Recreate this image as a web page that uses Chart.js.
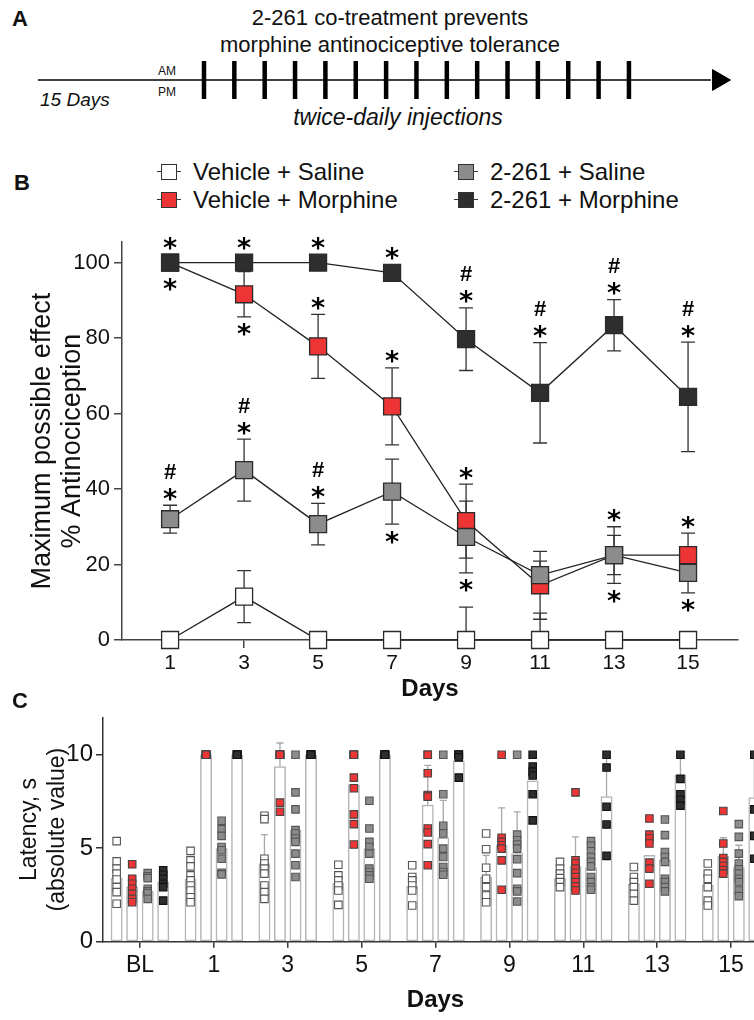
<!DOCTYPE html>
<html><head><meta charset="utf-8">
<script src="https://cdn.jsdelivr.net/npm/chart.js@4.4.1/dist/chart.umd.min.js"></script>
<style>
html,body{margin:0;padding:0;}
body{width:754px;height:1020px;overflow:hidden;position:relative;background:#fff;font-family:"Liberation Sans",Arial,sans-serif;color:#111;}
.abs{position:absolute;white-space:nowrap;}
canvas{position:absolute;left:0;}
.leg{position:absolute;font-size:24px;line-height:28px;white-space:nowrap;}
.mk{position:relative;display:inline-block;width:24px;height:16px;vertical-align:middle;margin-right:12px;top:-2px;}
.mk::before{content:'';position:absolute;left:0;right:0;top:7px;height:1.5px;background:#333;}
.mk i{position:absolute;left:4px;top:0;width:16px;height:16px;border:1.5px solid #333;box-sizing:border-box;}
</style></head><body>
<div class="abs" style="left:12px;top:6px;font-weight:bold;font-size:22px;">A</div>
<div class="abs" style="left:0;width:780px;top:4px;text-align:center;font-size:22px;line-height:27px;">2-261 co-treatment prevents<br>morphine antinociceptive tolerance</div>
<div class="abs" style="left:158px;top:64px;font-size:12px;">AM</div>
<div class="abs" style="left:158px;top:85px;font-size:12px;">PM</div>
<div class="abs" style="left:40px;top:89px;font-size:19px;font-style:italic;">15 Days</div>
<div class="abs" style="left:0;width:796px;top:104px;text-align:center;font-size:23px;font-style:italic;">twice-daily injections</div>
<canvas id="cA" width="754" height="56" style="top:52px"></canvas>

<div class="abs" style="left:14px;top:170px;font-weight:bold;font-size:22px;">B</div>
<div class="leg" style="left:157px;top:158px;"><span class="mk"><i style="background:#fff"></i></span>Vehicle + Saline</div>
<div class="leg" style="left:157px;top:186px;"><span class="mk"><i style="background:#ee3535"></i></span>Vehicle + Morphine</div>
<div class="leg" style="left:454px;top:158px;"><span class="mk"><i style="background:#8c8c8c"></i></span>2-261 + Saline</div>
<div class="leg" style="left:454px;top:186px;"><span class="mk"><i style="background:#2e2e2e"></i></span>2-261 + Morphine</div>
<canvas id="cB" width="754" height="480" style="top:225px"></canvas>

<div class="abs" style="left:12px;top:688px;font-weight:bold;font-size:22px;">C</div>
<canvas id="cC" width="770" height="320" style="top:700px"></canvas>

<script>
// ---------- Panel A data ----------
const injectionDays = [1,2,3,4,5,6,7,8,9,10,11,12,13,14,15];
const timelineStart = -4.47;
const timelineEnd = 17.7;
const arrowHead = 17.95;

// ---------- Panel B data ----------
const days = [1,3,5,7,9,11,13,15];
const dayTicks = [1,3,5,7,9,11,13,15];
const mpeTicks = [0,20,40,60,80,100];
const vsMPE = [0, 11.5, 0, 0, 0, 0, 0, 0];
const vsSEM = [0, 6.9, 0, 0, 8.7, 7.1, 0, 0];
const vmMPE = [100, 91.6, 77.8, 61.9, 31.5, 14.5, 22.5, 22.5];
const vmSEM = [0, 6.0, 8.5, 10.2, 9.8, 9.0, 5.2, 5.8];
const dsMPE = [32, 45, 30.7, 39.3, 27.3, 17.2, 22.5, 17.8];
const dsSEM = [3.7, 8.2, 5.5, 8.6, 9.5, 3.7, 7.5, 5.3];
const dmMPE = [100, 100, 100, 97.3, 79.7, 65.5, 83.4, 64.4];
const dmSEM = [0, 0, 0, 0, 8.3, 13.3, 6.8, 14.5];
// significance marks (above / below each point)
const vsAbove = ['','','','','','','',''];
const vsBelow = ['','','','','','','',''];
const vmAbove = ['','','*','*','*','','','*'];
const vmBelow = ['','*','','','','','',''];
const dsAbove = ['#*','#*','#*','','','','*',''];
const dsBelow = ['','','','*','*','','*','*'];
const dmAbove = ['*','*','*','*','#*','#*','#*','#*'];
const dmBelow = ['*','','','','','','',''];

// ---------- Panel C data ----------
const groups = ['BL','1','3','5','7','9','11','13','15'];
const latTicks = [0,5,10];
const vsMean = [3.4, 3.37, 4.18, 3.14, 2.96, 3.46, 3.4, 3.1, 3.01];
const vsSD   = [0, 0, 1.55, 0, 0, 1.16, 0, 0, 0];
const vmMean = [2.92, 10, 9.37, 8.39, 7.31, 5.16, 4.03, 4.62, 4.57];
const vmSD   = [0, 0, 1.26, 0, 2.12, 2.0, 1.58, 0, 0.99];
const dsMean = [2.69, 4.98, 5.97, 4.98, 5.56, 4.71, 3.96, 4.35, 3.96];
const dsSD   = [0, 0, 0, 0, 2.0, 2.24, 0, 0, 1.2];
const dmMean = [3.19, 10, 10, 10, 9.68, 8.6, 7.76, 8.92, 7.71];
const dmSD   = [0, 0, 0, 0, 0, 0, 2.24, 1.08, 2.29];

const vsPts = [
  [5.38,4.30,3.91,3.64,3.33,2.92,2.65,2.03],
  [4.86,4.35,4.03,3.55,3.28,3.01,2.74,2.38,2.11],
  [6.74,6.56,4.44,4.18,3.91,3.64,3.01,2.65,2.29],
  [4.12,3.55,3.28,3.01,2.74,1.97],
  [4.09,3.46,3.28,3.01,2.74,1.94],
  [5.79,4.95,3.96,3.37,2.92,2.47,2.11],
  [4.27,3.91,3.64,3.40,3.19,2.92],
  [4.00,3.46,3.19,2.92,2.56,2.20],
  [4.18,3.64,3.37,2.92,2.20,1.94]
];
const vmPts = [
  [4.14,3.37,3.10,2.83,2.56,2.29,2.11],
  [10,10,10,10,10,10,10,10],
  [10,10,10,10,10,10,7.44,6.95],
  [10,10,10,10,8.78,8.21,6.81,6.29,5.20],
  [10,10,9.01,7.85,7.76,6.06,5.84,5.22,4.09],
  [10,5.56,5.34,5.16,4.98,4.35,2.78],
  [7.99,4.35,4.18,3.91,3.69,3.46,3.19,2.96,2.74],
  [6.59,5.73,5.52,5.25,4.23,3.91,3.10],
  [6.99,5.25,4.48,4.27,4.05,3.82,3.64]
];
const dsPts = [
  [3.67,3.50,3.40,2.83,2.70,2.60,2.29],
  [6.47,6.02,5.66,5.07,4.89,4.44,3.69,3.60],
  [10,7.99,7.08,5.97,5.79,5.52,5.34,4.71,4.09,3.46],
  [7.54,6.06,5.34,5.07,4.71,3.91,3.73,3.55,3.37],
  [10,7.89,6.20,5.79,4.98,4.53,4.00,3.73,3.58],
  [10,5.73,5.43,5.20,4.98,4.41,3.67,2.83,2.69,2.15],
  [5.38,5.13,4.84,4.53,4.27,4.03,3.46,3.19,2.92,2.78],
  [6.54,5.70,4.80,4.53,4.27,3.37,3.19,2.92,2.69],
  [6.29,5.61,4.71,4.18,3.87,3.64,3.37,3.19,2.74,2.44]
];
const dmPts = [
  [3.82,3.58,3.37,3.10,2.92,2.20],
  [10,10,10,10,10,10],
  [10,10,10,10,10,10],
  [10,10,10,10,10,10],
  [10,10,10,10,9.86,8.78],
  [10,9.37,9.10,8.89,7.89,6.49],
  [10,9.32,7.22,6.27,4.59],
  [10,8.71,7.89,7.58,7.28],
  [10,7.08,5.66,4.44]
];

const COL = {white:'#ffffff', red:'#ee3535', gray:'#8c8c8c', black:'#2e2e2e'};
const FONT = '"Liberation Sans", Arial, sans-serif';
Chart.defaults.font.family = FONT;
Chart.defaults.color = '#111';

// ================= Panel A =================
new Chart(document.getElementById('cA'), {
  type: 'scatter',
  data: { datasets: [
    { data: injectionDays.map(d => ({x:d, y:0})), pointStyle:'line', pointRotation:90, pointRadius:19,
      pointBorderWidth:4.5, pointBorderColor:'#000', showLine:false, clip:false },
    { data: [{x:timelineStart,y:0},{x:timelineEnd,y:0}], showLine:true, borderColor:'#000', borderWidth:1.6,
      pointRadius:0, clip:false },
    { data: [{x:arrowHead,y:0}], pointStyle:'triangle', pointRotation:90, pointRadius:12,
      pointBackgroundColor:'#000', pointBorderColor:'#000', pointBorderWidth:1, clip:false }
  ]},
  options: {
    responsive:false, animation:false, devicePixelRatio:1,
    layout:{padding:0, autoPadding:false},
    plugins:{legend:{display:false}, tooltip:{enabled:false}},
    scales:{
      x:{type:'linear', min:-5.72, max:19.12, display:false},
      y:{type:'linear', min:-1, max:1, display:false}
    }
  }
});

// ================= Panel B =================
function xy(vals){ return days.map((d,i)=>({x:d, y:vals[i]})); }
function lineDs(label, vals, sem, above, below, fill, order){
  return { label, data: xy(vals), sem, above, below, showLine:true, borderColor:'#222', borderWidth:1.3,
    pointStyle:'rect', pointRadius:12, pointBackgroundColor:fill, pointBorderColor:'#2a2a2a',
    pointBorderWidth:1.3, clip:false, order };
}
const errB = {
  id:'errB',
  beforeDatasetsDraw(chart){
    const {ctx, chartArea:a, scales:{x, y}} = chart;
    ctx.save();
    ctx.beginPath(); ctx.rect(a.left-20, a.top-40, a.right-a.left+40, a.bottom-a.top+40); ctx.clip();
    ctx.strokeStyle = '#333'; ctx.lineWidth = 1.3;
    chart.data.datasets.forEach(ds => {
      ds.sem.forEach((s,i) => {
        if (!s) return;
        const p = ds.data[i];
        const px = x.getPixelForValue(p.x);
        const y1 = y.getPixelForValue(p.y + s), y2 = y.getPixelForValue(p.y - s);
        ctx.beginPath();
        ctx.moveTo(px, y1); ctx.lineTo(px, y2);
        ctx.moveTo(px-7, y1); ctx.lineTo(px+7, y1);
        if (p.y - s > -1) { ctx.moveTo(px-7, y2); ctx.lineTo(px+7, y2); }
        ctx.stroke();
      });
    });
    ctx.restore();
  }
};
function drawGlyph(ctx, ch, cx, cy){
  ctx.font = ch === '*' ? 'bold 27px "DejaVu Sans"' : 'bold 22px "Liberation Sans"';
  ctx.textAlign = 'center'; ctx.textBaseline = 'alphabetic';
  const m = ctx.measureText(ch);
  const asc = m.actualBoundingBoxAscent, desc = m.actualBoundingBoxDescent;
  ctx.fillText(ch, cx, cy + (asc - desc)/2);
}
const sigB = {
  id:'sigB',
  afterDatasetsDraw(chart){
    const {ctx, scales:{x, y}} = chart;
    ctx.save(); ctx.fillStyle = '#000';
    chart.data.datasets.forEach(ds => {
      ds.data.forEach((p,i) => {
        const px = x.getPixelForValue(p.x), yc = y.getPixelForValue(p.y);
        const s = ds.sem[i];
        const up = Math.min(y.getPixelForValue(p.y + s), yc - 8.5);
        const lo = Math.max(y.getPixelForValue(p.y - s), yc + 8.5);
        const a = ds.above[i];
        if (a) {
          let cy = up - 11;
          for (let k = a.length - 1; k >= 0; k--) { drawGlyph(ctx, a[k], px, cy); cy -= 23; }
        }
        const b = ds.below[i];
        if (b) {
          let cy = lo + 13;
          for (let k = 0; k < b.length; k++) { drawGlyph(ctx, b[k], px, cy); cy += 23; }
        }
      });
    });
    ctx.restore();
  }
};
new Chart(document.getElementById('cB'), {
  type:'scatter',
  data:{ datasets:[
    lineDs('Vehicle + Saline', vsMPE, vsSEM, vsAbove, vsBelow, COL.white, 3),
    lineDs('Vehicle + Morphine', vmMPE, vmSEM, vmAbove, vmBelow, COL.red, 2),
    lineDs('2-261 + Saline', dsMPE, dsSEM, dsAbove, dsBelow, COL.gray, 1),
    lineDs('2-261 + Morphine', dmMPE, dmSEM, dmAbove, dmBelow, COL.black, 0)
  ]},
  options:{
    responsive:false, animation:false, devicePixelRatio:1,
    layout:{padding:{top:12, right:16, left:0, bottom:0}, autoPadding:false},
    plugins:{legend:{display:false}, tooltip:{enabled:false}},
    scales:{
      x:{type:'linear', min:-0.3, max:16.35,
        afterBuildTicks: s => { s.ticks = dayTicks.map(v => ({value:v})); },
        afterFit: s => { s.height = 65; },
        ticks:{font:{size:21}, color:'#111', padding:3, maxRotation:0},
        grid:{drawOnChartArea:false, tickLength:8, color:'#444', lineWidth:1.5},
        border:{color:'#444', width:1.5},
        title:{display:true, text:'Days', font:{size:24, weight:'bold'}, color:'#111', padding:{bottom:1}}
      },
      y:{type:'linear', min:0, max:105.4,
        afterBuildTicks: s => { s.ticks = mpeTicks.map(v => ({value:v})); },
        afterFit: s => { s.width = 122; },
        ticks:{font:{size:22}, color:'#111', padding:4},
        grid:{drawOnChartArea:false, tickLength:8, color:'#444', lineWidth:1.5},
        border:{color:'#444', width:1.5},
        title:{display:true, text:['Maximum possible effect','% Antinociception'], font:{size:27, lineHeight:1.12},
          color:'#111', padding:{top:27}}
      }
    }
  },
  plugins:[errB, sigB]
});

// ================= Panel C =================
const CP = 0.84, BP = 0.73;
function offsetFor(k){ return CP*((k+0.5)/4 - 0.5); }
function scatterPts(arr, k){
  const out = [];
  arr.forEach((vals, g) => vals.forEach(v => out.push({x: g + offsetFor(k), y: v})));
  return out;
}
function barDs(label, means, sd, k){
  return { type:'bar', label, data: means.map((m, g) => ({x: g + offsetFor(k), y: m})), sd,
    backgroundColor:'#fff', borderColor:'#b4b4b4', borderWidth:1.5, borderSkipped:false,
    grouped:false, barThickness:11.3, order:10 };
}
function ptDs(label, arr, k, fill, border, order){
  return { type:'scatter', label, data: scatterPts(arr, k), pointStyle:'rect', pointRadius:5.3,
    pointBackgroundColor:fill, pointBorderColor:border, pointBorderWidth:1.1, clip:false, order };
}
const errC = {
  id:'errC',
  beforeDatasetsDraw(chart){
    const {ctx, scales:{x, y}} = chart;
    ctx.save(); ctx.strokeStyle = '#a8a8a8'; ctx.lineWidth = 1.3;
    chart.data.datasets.forEach(ds => {
      if (ds.type !== 'bar') return;
      ds.sd.forEach((s, g) => {
        if (!s) return;
        const p = ds.data[g];
        const px = x.getPixelForValue(p.x);
        const y0 = y.getPixelForValue(p.y), y1 = y.getPixelForValue(p.y + s);
        ctx.beginPath();
        ctx.moveTo(px, y0); ctx.lineTo(px, y1);
        ctx.moveTo(px-3.5, y1); ctx.lineTo(px+3.5, y1);
        ctx.stroke();
      });
    });
    ctx.restore();
  }
};
new Chart(document.getElementById('cC'), {
  type:'bar',
  data:{ datasets:[
    barDs('Vehicle + Saline', vsMean, vsSD, 0),
    barDs('Vehicle + Morphine', vmMean, vmSD, 1),
    barDs('2-261 + Saline', dsMean, dsSD, 2),
    barDs('2-261 + Morphine', dmMean, dmSD, 3),
    ptDs('Vehicle + Saline pts', vsPts, 0, COL.white, '#555', 3),
    ptDs('Vehicle + Morphine pts', vmPts, 1, COL.red, '#444', 2),
    ptDs('2-261 + Saline pts', dsPts, 2, COL.gray, '#555', 1),
    ptDs('2-261 + Morphine pts', dmPts, 3, COL.black, '#111', 0)
  ]},
  options:{
    responsive:false, animation:false, devicePixelRatio:1,
    layout:{padding:{top:17, right:2, left:0, bottom:0}, autoPadding:false},
    plugins:{legend:{display:false}, tooltip:{enabled:false}},
    scales:{
      x:{type:'linear', min:-0.5, max:8.5, offset:false,
        afterBuildTicks: s => { s.ticks = groups.map((g, i) => ({value:i})); },
        afterFit: s => { s.height = 78.3; },
        ticks:{font:{size:23}, color:'#111', padding:4, maxRotation:0, autoSkip:false,
          callback: v => groups[v]},
        grid:{offset:false, drawOnChartArea:false, tickLength:6, color:'#333', lineWidth:1.5},
        border:{color:'#333', width:1.5},
        title:{display:true, text:'Days', font:{size:24, weight:'bold'}, color:'#111', padding:{bottom:5}}
      },
      y:{type:'linear', min:0, max:12,
        afterBuildTicks: s => { s.ticks = latTicks.map(v => ({value:v})); },
        afterFit: s => { s.width = 103; },
        ticks:{font:{size:24}, color:'#111', padding:3},
        grid:{drawOnChartArea:false, tickLength:7, color:'#333', lineWidth:1.5},
        border:{color:'#333', width:1.5},
        title:{display:true, text:['Latency, s','(absolute value)'], font:{size:23, lineHeight:1.2},
          color:'#111', padding:{top:16}}
      }
    }
  },
  plugins:[errC]
});
</script>
</body></html>
